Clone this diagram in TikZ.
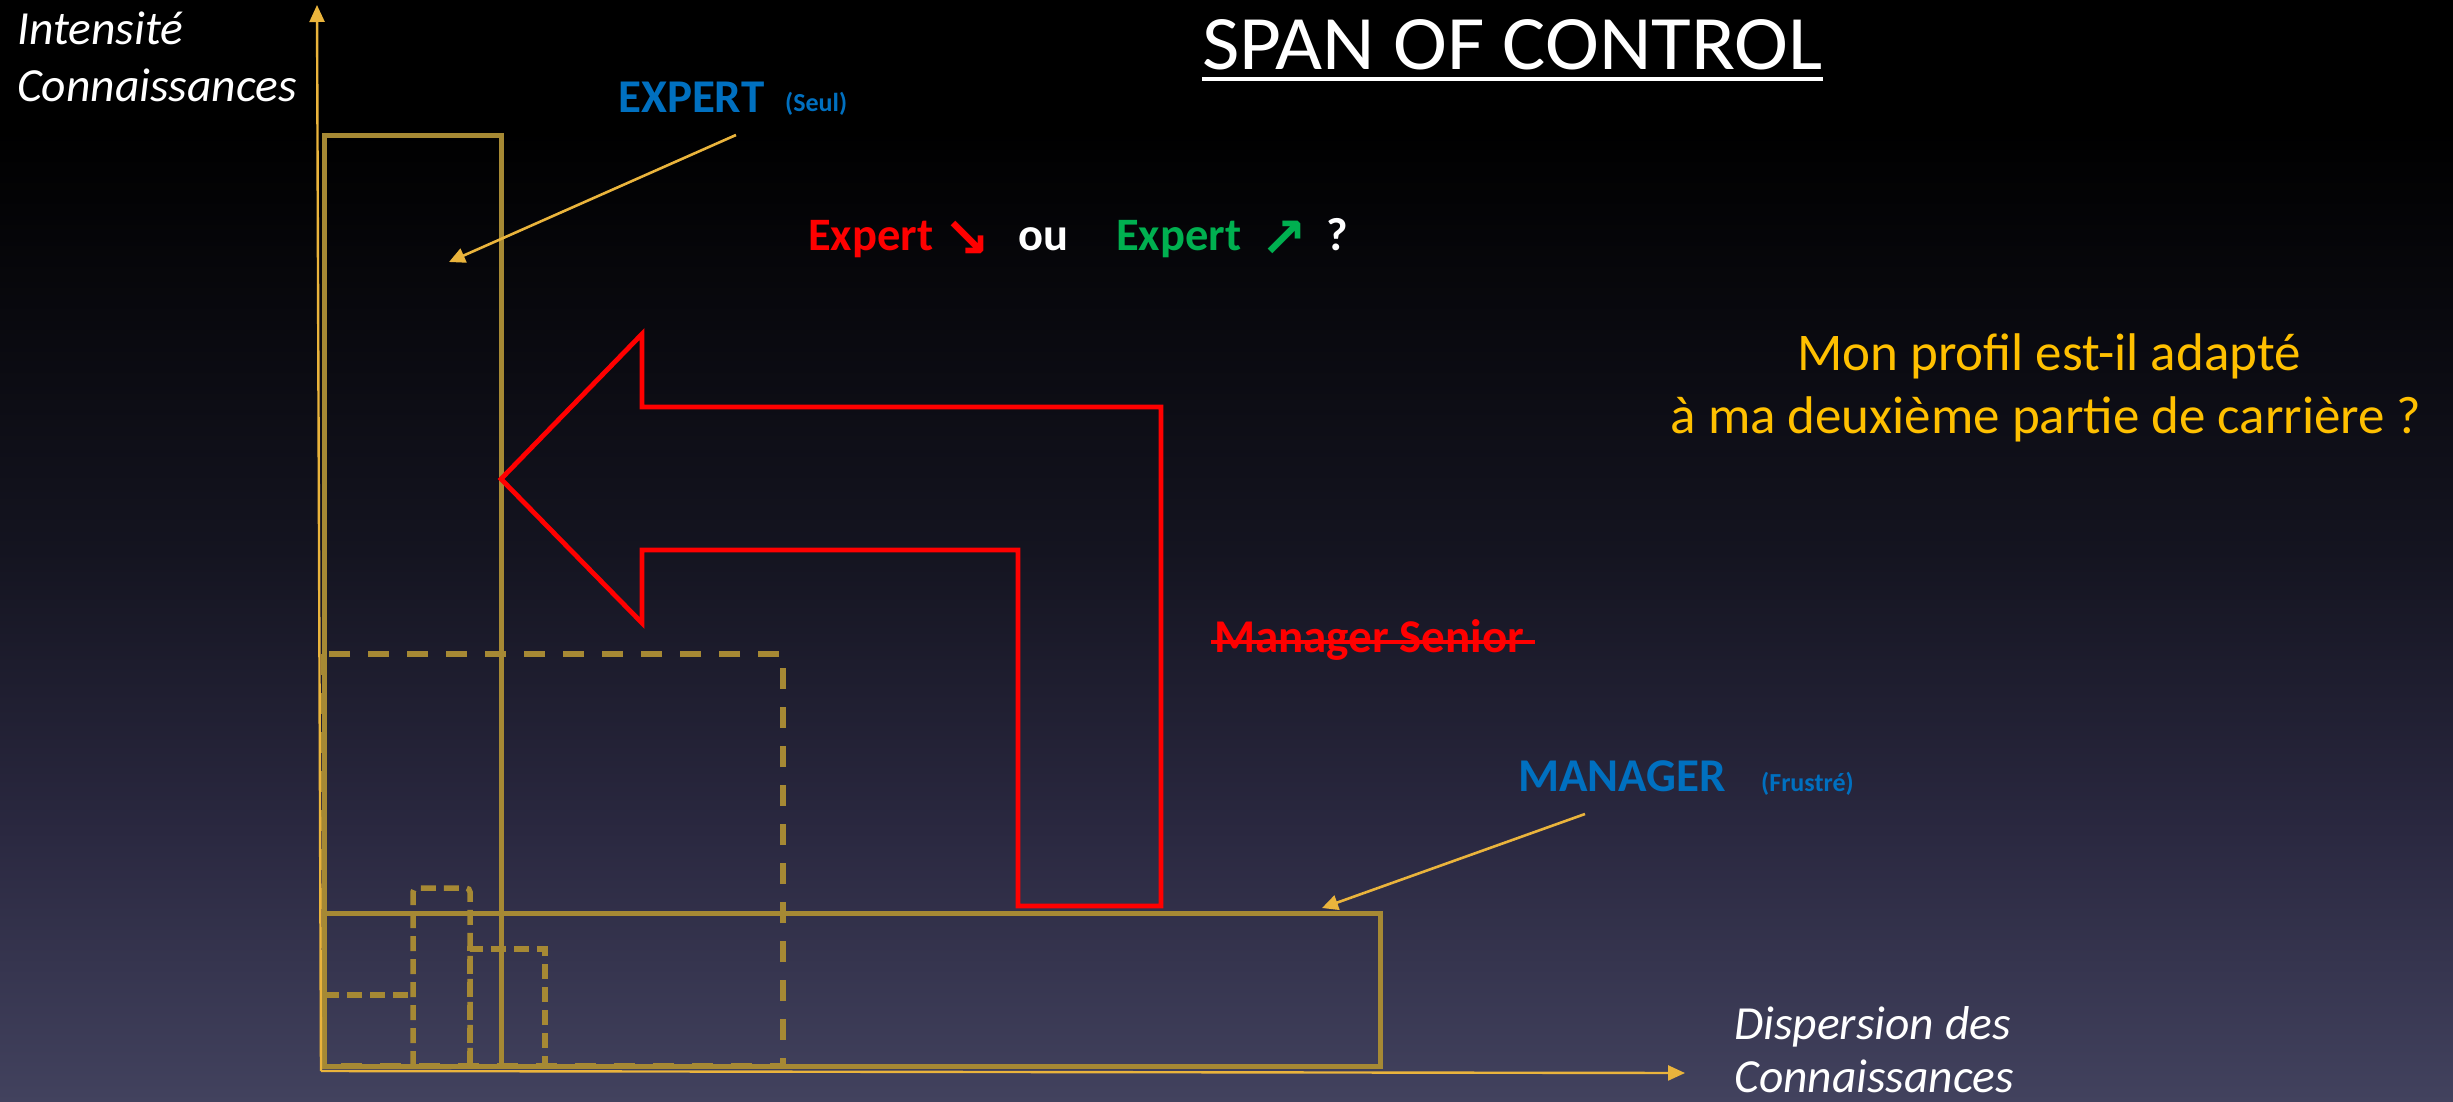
\documentclass[tikz,border=0pt]{standalone}
\usepackage{fontspec}
\setmainfont{Carlito}
\newfontfamily\arrowfont{DejaVu Sans}
\usetikzlibrary{arrows.meta}
\definecolor{rectgold}{RGB}{166,137,52}
\definecolor{axisgold}{RGB}{234,180,60}
\definecolor{ublue}{RGB}{0,112,192}
\definecolor{ugreen}{RGB}{0,176,80}
\definecolor{ured}{RGB}{255,0,0}
\definecolor{txtgold}{RGB}{255,192,0}
\definecolor{bgA}{RGB}{20,20,32}
\definecolor{bgB}{RGB}{42,40,64}
\definecolor{bgC}{RGB}{66,66,94}
\begin{document}
\begin{tikzpicture}[x=1pt,y=-1pt,
  lbl/.style={inner sep=0pt, anchor=base west},
  solidrect/.style={draw=rectgold, line width=5pt},
  bigdash/.style={draw=rectgold, line width=5.5pt, dash pattern=on 21pt off 18pt},
  smalldash/.style={draw=rectgold, line width=5.5pt, dash pattern=on 15pt off 8pt},
  axisline/.style={draw=axisgold, line width=2.4pt, -{Triangle[length=17pt,width=15pt]}},
  pointer/.style={draw=axisgold, line width=2.6pt, -{Triangle[length=16pt,width=15pt]}},
  redarrow/.style={draw=ured, line width=4.8pt, line join=miter}
]
\useasboundingbox (0,0) rectangle (2453,1102);
% background
\fill[black] (0,0) rectangle (2453,131);
\shade[top color=black, bottom color=bgA] (0,130) rectangle (2453,551);
\shade[top color=bgA, bottom color=bgB] (0,550) rectangle (2453,831);
\shade[top color=bgB, bottom color=bgC] (0,830) rectangle (2453,1102);

% rectangles
\draw[bigdash] (324,654) rectangle (783,1066);
\draw[smalldash, rounded corners=4pt] (413,1066) -- (413,888) -- (470,888) -- (470,1066);
\draw[smalldash] (470,1066) -- (470,949) -- (545,949) -- (545,1066);
\draw[smalldash] (324,995) -- (413,995);
\draw[solidrect] (324,136) rectangle (501,1066);
\draw[solidrect] (324,913) rectangle (1380,1066);

% axes
\coordinate (origin) at (321,1071);
\coordinate (ytip) at (317,5);
\coordinate (xtip) at (1685,1073);
\draw[axisline] (origin) -- (ytip);
\draw[axisline] (origin) -- (xtip);

% red arrow
\draw[redarrow] (501,479) -- (642,334) -- (642,407) -- (1161,407) -- (1161,906)
  -- (1018,906) -- (1018,550) -- (642,550) -- (642,623) -- cycle;

% title
\node[lbl, text=white, font=\fontsize{77}{90}\selectfont] (title) at (1202,70) {\scalebox{1.055}[1]{SPAN OF CONTROL}};
\draw[white, line width=3.3pt] ([yshift=-9pt]title.base west) -- ([yshift=-9pt]title.base east);

% axis labels
\node[lbl, text=white, font=\fontsize{47.5}{55}\selectfont\itshape] (ylab1) at (17,45) {Intensité};
\node[lbl, text=white, font=\fontsize{47.5}{55}\selectfont\itshape] (ylab2) at (17,102) {Connaissances};
\node[lbl, text=white, font=\fontsize{47.5}{55}\selectfont\itshape] (xlab1) at (1734,1039) {Dispersion des};
\node[lbl, text=white, font=\fontsize{47.5}{55}\selectfont\itshape] (xlab2) at (1734,1092) {Connaissances};

% EXPERT
\node[lbl, text=ublue, font=\fontsize{47}{55}\selectfont\bfseries] (expert) at (618,113) {EXPERT};
\node[lbl, text=ublue, font=\fontsize{26}{30}\selectfont\bfseries] (seul) at (785,112) {(Seul)};
\coordinate (expfrom) at (736,135);
\coordinate (expto) at (449,262);
\draw[pointer] (expfrom) -- (expto);

% MANAGER
\node[lbl, text=ublue, font=\fontsize{47}{55}\selectfont\bfseries] (manager) at (1518,791) {MANAGER};
\node[lbl, text=ublue, font=\fontsize{26}{30}\selectfont\bfseries] (frustre) at (1761,791) {(Frustré)};
\coordinate (manfrom) at (1585,814);
\coordinate (manto) at (1322,908);
\draw[pointer] (manfrom) -- (manto);

% Expert question
\node[lbl, text=ured, font=\fontsize{46.5}{55}\selectfont\bfseries] (exp1) at (808,251) {Expert};
\node[lbl, text=ured, font=\fontsize{56}{60}\selectfont\bfseries\arrowfont] (arr1) at (943,258) {↘};
\node[lbl, text=white, font=\fontsize{46.5}{55}\selectfont\bfseries] (ou) at (1018,251) {ou};
\node[lbl, text=ugreen, font=\fontsize{46.5}{55}\selectfont\bfseries] (exp2) at (1116,251) {Expert};
\node[lbl, text=ugreen, font=\fontsize{56}{60}\selectfont\bfseries\arrowfont] (arr2) at (1260,258) {↗};
\node[lbl, text=white, font=\fontsize{46.5}{55}\selectfont\bfseries] (qm) at (1326,251) {?};

% question right
\node[inner sep=0pt, anchor=base, text=txtgold, font=\fontsize{53}{63}\selectfont] (q1) at (2049,370) {Mon profil est-il adapté};
\node[inner sep=0pt, anchor=base, text=txtgold, font=\fontsize{53}{63}\selectfont] (q2) at (2046,433) {à ma deuxième partie de carrière ?};

% Manager Senior struck
\node[lbl, text=ured, font=\fontsize{47}{55}\selectfont\bfseries] (ms) at (1214,652) {Manager Senior};
\draw[ured, line width=4.5pt] ([xshift=-3pt,yshift=10pt]ms.base west) -- ([xshift=10pt,yshift=10pt]ms.base east);
\end{tikzpicture}
\end{document}
